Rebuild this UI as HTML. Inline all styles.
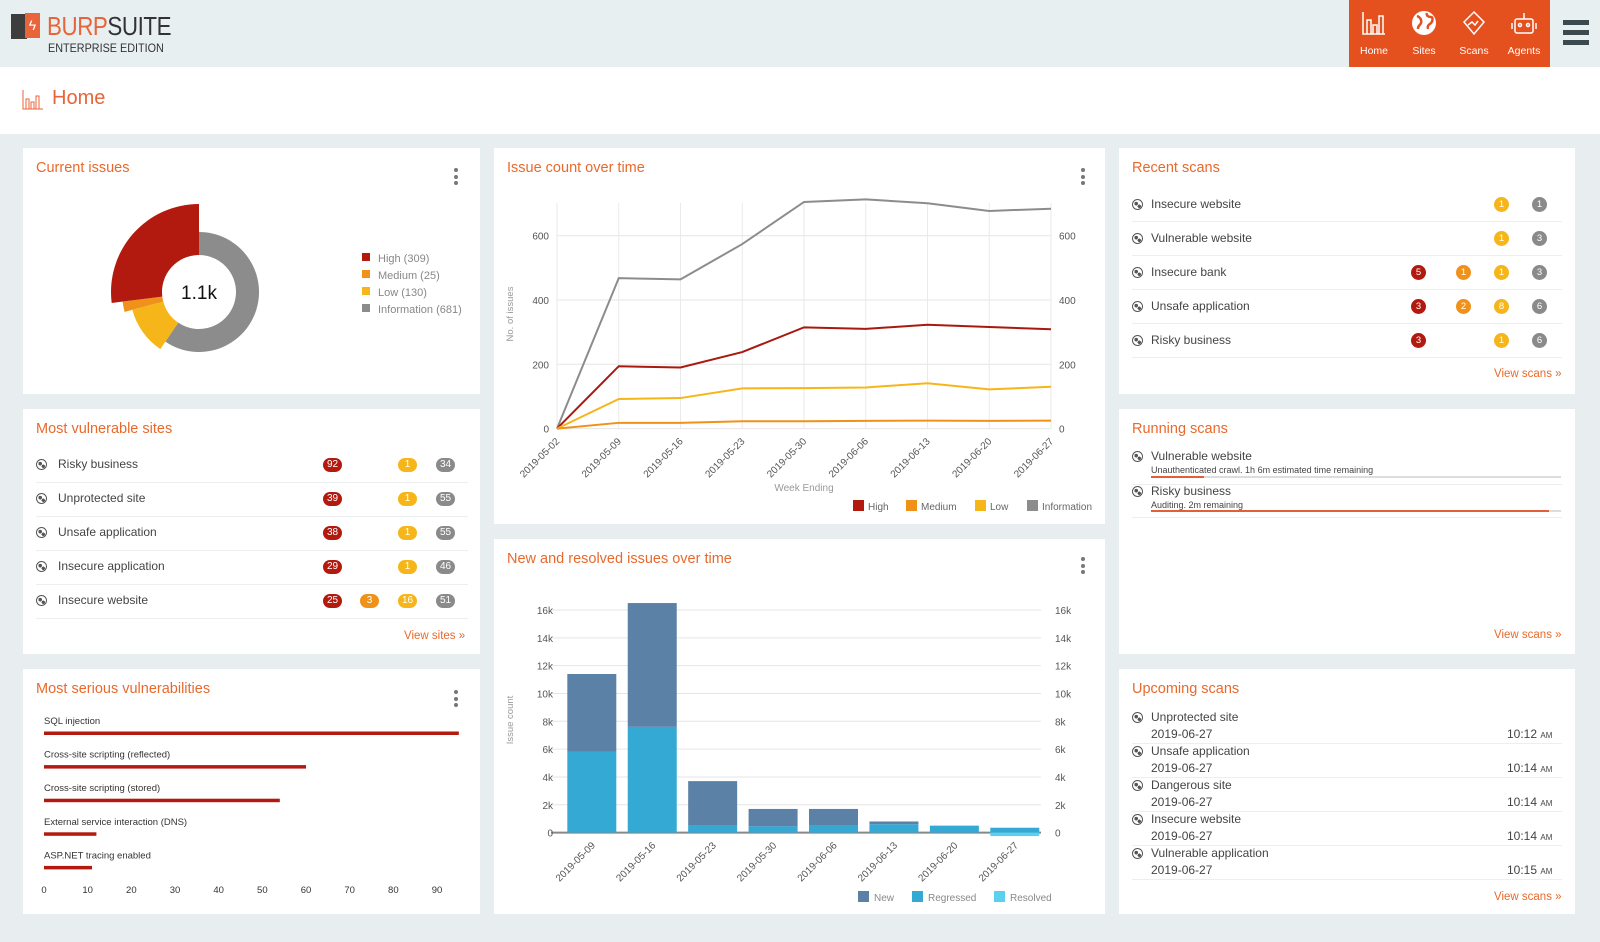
<!DOCTYPE html>
<html><head><meta charset="utf-8">
<style>
*{box-sizing:border-box;margin:0;padding:0}
body{width:1600px;height:942px;overflow:hidden;background:#e8eef0;font-family:"Liberation Sans",sans-serif;position:relative;color:#444}
.abs{position:absolute}
.panel{position:absolute;background:#fff}
.ttl{position:absolute;left:13px;top:12px;font-size:14.5px;color:#e9692c}
.kebab{position:absolute;width:4px}
.kebab i{display:block;width:4px;height:4px;border-radius:2px;background:#777;margin-bottom:2.5px}
.row{position:absolute;font-size:12px;color:#444;white-space:nowrap}
.sep{position:absolute;height:1px;background:#eceff0}
.globe{position:absolute;width:11px;height:11px;border-radius:50%;border:1.5px solid #555;background:radial-gradient(circle at 35% 40%,#555 22%,transparent 24%),radial-gradient(circle at 70% 70%,#555 18%,transparent 20%)}
.pill{position:absolute;height:14px;min-width:19px;border-radius:7px;color:#fff;font-size:10px;line-height:14px;text-align:center;padding:0 3px}
.dot{position:absolute;width:15px;height:15px;border-radius:50%;color:#fff;font-size:9.5px;line-height:15px;text-align:center}
.r{background:#b31a0f}.o{background:#f0921a}.y{background:#f6b619}.g{background:#8a8a8a}
.view{position:absolute;font-size:11.5px;color:#e9692c}
.nav{position:absolute;top:0;width:50px;text-align:center;color:#fff;font-size:10.5px}
</style></head><body>
<div class="abs" style="left:0;top:0;width:1600px;height:67px;background:#e8eff1"></div>
<div class="abs" style="left:10px;top:12px;width:170px;height:46px">
  <div class="abs" style="left:1px;top:2px;width:16px;height:25px;background:#3d3d3d"></div>
  <div class="abs" style="left:15px;top:1px;width:15px;height:25px;background:#e8643a;color:#fff;font-size:14px;line-height:25px;text-align:center">ϟ</div>
  <div class="abs" style="left:37px;top:0px;font-size:26px;line-height:28px;white-space:nowrap;transform:scaleX(0.86);transform-origin:0 0;letter-spacing:-0.5px"><span style="color:#e8643a">BURP</span><span style="color:#333">SUITE</span></div>
  <div class="abs" style="left:38px;top:29px;font-size:12px;color:#333;white-space:nowrap;transform:scaleX(0.9);transform-origin:0 0">ENTERPRISE EDITION</div>
</div>
<div class="abs" style="left:1349px;top:0;width:201px;height:67px;background:#e5501f">
  <div class="nav" style="left:0"><svg width="26" height="26" style="margin-top:10px" viewBox="0 0 26 26" fill="none" stroke="#fff" stroke-width="1.5"><path d="M2 2v22h22M6 24V10h4v14M12 24V15h4v9M18 24V6h4v18"/></svg><div style="margin-top:6px">Home</div></div>
  <div class="nav" style="left:50px"><svg width="26" height="26" style="margin-top:10px" viewBox="0 0 26 26"><circle cx="13" cy="13" r="12" fill="#fff"/><path d="M6 6c3 1 5 4 4 7s-3 2-3 6M16 3c-1 3 2 4 4 4s2 4 0 6-4 2-3 6" stroke="#e5501f" stroke-width="2.5" fill="none"/></svg><div style="margin-top:6px">Sites</div></div>
  <div class="nav" style="left:100px"><svg width="26" height="26" style="margin-top:10px" viewBox="0 0 26 26" fill="none" stroke="#fff" stroke-width="1.5"><path d="M13 2l10 10-10 12L3 12z M7 15l4-3 3 3 3-4"/></svg><div style="margin-top:6px">Scans</div></div>
  <div class="nav" style="left:150px"><svg width="28" height="26" style="margin-top:10px" viewBox="0 0 28 26" fill="none" stroke="#fff" stroke-width="1.5"><rect x="5" y="9" width="18" height="14" rx="2"/><path d="M2 13v6M26 13v6M14 9V3"/><circle cx="10" cy="15" r="1.5"/><circle cx="18" cy="15" r="1.5"/></svg><div style="margin-top:6px">Agents</div></div>
</div>
<div class="abs" style="left:1563px;top:20px;width:26px;height:27px">
  <div class="abs" style="left:0;top:0;width:26px;height:5px;background:#3c4a50"></div>
  <div class="abs" style="left:0;top:10px;width:26px;height:5px;background:#3c4a50"></div>
  <div class="abs" style="left:0;top:20px;width:26px;height:5px;background:#3c4a50"></div>
</div>
<div class="abs" style="left:0;top:67px;width:1600px;height:67px;background:#fff">
  <svg class="abs" style="left:22px;top:23px" width="21" height="20" viewBox="0 0 21 20" fill="none" stroke="#e8643a" stroke-width="1"><path d="M1 0v19h20M4 19V9h3v10M9 19V12h3v7M14 19V6h3v13"/></svg>
  <div class="abs" style="left:52px;top:20px;font-size:20px;color:#e8643a">Home</div>
</div>

<!-- Current issues -->
<div class="panel" style="left:23px;top:148px;width:457px;height:246px">
  <div class="ttl">Current issues</div>
  <div class="kebab" style="left:431px;top:20px"><i></i><i></i><i></i></div>
</div>
<!-- Most vulnerable sites -->
<div class="panel" style="left:23px;top:409px;width:457px;height:245px">
  <div class="ttl">Most vulnerable sites</div>
  <div class="globe" style="left:13px;top:50px"></div><div class="row" style="left:35px;top:48px">Risky business</div>
  <div class="pill r" style="left:300px;top:49px">92</div><div class="pill y" style="left:375px;top:49px">1</div><div class="pill g" style="left:413px;top:49px">34</div>
  <div class="sep" style="left:13px;top:73px;width:432px"></div>
  <div class="globe" style="left:13px;top:84px"></div><div class="row" style="left:35px;top:82px">Unprotected site</div>
  <div class="pill r" style="left:300px;top:83px">39</div><div class="pill y" style="left:375px;top:83px">1</div><div class="pill g" style="left:413px;top:83px">55</div>
  <div class="sep" style="left:13px;top:107px;width:432px"></div>
  <div class="globe" style="left:13px;top:118px"></div><div class="row" style="left:35px;top:116px">Unsafe application</div>
  <div class="pill r" style="left:300px;top:117px">38</div><div class="pill y" style="left:375px;top:117px">1</div><div class="pill g" style="left:413px;top:117px">55</div>
  <div class="sep" style="left:13px;top:141px;width:432px"></div>
  <div class="globe" style="left:13px;top:152px"></div><div class="row" style="left:35px;top:150px">Insecure application</div>
  <div class="pill r" style="left:300px;top:151px">29</div><div class="pill y" style="left:375px;top:151px">1</div><div class="pill g" style="left:413px;top:151px">46</div>
  <div class="sep" style="left:13px;top:175px;width:432px"></div>
  <div class="globe" style="left:13px;top:186px"></div><div class="row" style="left:35px;top:184px">Insecure website</div>
  <div class="pill r" style="left:300px;top:185px">25</div><div class="pill o" style="left:337px;top:185px">3</div><div class="pill y" style="left:375px;top:185px">16</div><div class="pill g" style="left:413px;top:185px">51</div>
  <div class="sep" style="left:13px;top:209px;width:432px"></div>
  <div class="view" style="left:381px;top:221px">View sites »</div>
</div>
<!-- Most serious vulnerabilities -->
<div class="panel" style="left:23px;top:669px;width:457px;height:245px">
  <div class="ttl">Most serious vulnerabilities</div>
  <div class="kebab" style="left:431px;top:21px"><i></i><i></i><i></i></div>
</div>
<!-- Issue count over time -->
<div class="panel" style="left:494px;top:148px;width:611px;height:376px">
  <div class="ttl">Issue count over time</div>
  <div class="kebab" style="left:587px;top:20px"><i></i><i></i><i></i></div>
</div>
<!-- New and resolved -->
<div class="panel" style="left:494px;top:539px;width:611px;height:375px">
  <div class="ttl">New and resolved issues over time</div>
  <div class="kebab" style="left:587px;top:18px"><i></i><i></i><i></i></div>
</div>
<!-- Recent scans -->
<div class="panel" style="left:1119px;top:148px;width:456px;height:246px">
  <div class="ttl">Recent scans</div>
  <div class="globe" style="left:13px;top:51px"></div><div class="row" style="left:32px;top:49px">Insecure website</div>
  <div class="dot y" style="left:375px;top:49px">1</div><div class="dot g" style="left:413px;top:49px">1</div>
  <div class="sep" style="left:13px;top:73px;width:430px"></div>
  <div class="globe" style="left:13px;top:85px"></div><div class="row" style="left:32px;top:83px">Vulnerable website</div>
  <div class="dot y" style="left:375px;top:83px">1</div><div class="dot g" style="left:413px;top:83px">3</div>
  <div class="sep" style="left:13px;top:107px;width:430px"></div>
  <div class="globe" style="left:13px;top:119px"></div><div class="row" style="left:32px;top:117px">Insecure bank</div>
  <div class="dot r" style="left:292px;top:117px">5</div><div class="dot o" style="left:337px;top:117px">1</div><div class="dot y" style="left:375px;top:117px">1</div><div class="dot g" style="left:413px;top:117px">3</div>
  <div class="sep" style="left:13px;top:141px;width:430px"></div>
  <div class="globe" style="left:13px;top:153px"></div><div class="row" style="left:32px;top:151px">Unsafe application</div>
  <div class="dot r" style="left:292px;top:151px">3</div><div class="dot o" style="left:337px;top:151px">2</div><div class="dot y" style="left:375px;top:151px">8</div><div class="dot g" style="left:413px;top:151px">6</div>
  <div class="sep" style="left:13px;top:175px;width:430px"></div>
  <div class="globe" style="left:13px;top:187px"></div><div class="row" style="left:32px;top:185px">Risky business</div>
  <div class="dot r" style="left:292px;top:185px">3</div><div class="dot y" style="left:375px;top:185px">1</div><div class="dot g" style="left:413px;top:185px">6</div>
  <div class="sep" style="left:13px;top:209px;width:430px"></div>
  <div class="view" style="left:375px;top:220px">View scans »</div>
</div>
<!-- Running scans -->
<div class="panel" style="left:1119px;top:409px;width:456px;height:245px">
  <div class="ttl">Running scans</div>
  <div class="globe" style="left:13px;top:42px"></div><div class="row" style="left:32px;top:40px">Vulnerable website</div>
  <div class="row" style="left:32px;top:56px;font-size:9px">Unauthenticated crawl. 1h 6m estimated time remaining</div>
  <div class="abs" style="left:32px;top:67px;width:410px;height:2px;background:#ddd"><div style="width:53px;height:2px;background:#e0603a"></div></div>
  <div class="sep" style="left:13px;top:75px;width:430px"></div>
  <div class="globe" style="left:13px;top:77px"></div><div class="row" style="left:32px;top:75px">Risky business</div>
  <div class="row" style="left:32px;top:91px;font-size:9px">Auditing. 2m remaining</div>
  <div class="abs" style="left:32px;top:101px;width:410px;height:2px;background:#ddd"><div style="width:398px;height:2px;background:#e0603a"></div></div>
  <div class="sep" style="left:13px;top:108px;width:430px"></div>
  <div class="view" style="left:375px;top:220px">View scans »</div>
</div>
<!-- Upcoming scans -->
<div class="panel" style="left:1119px;top:669px;width:456px;height:245px">
  <div class="ttl">Upcoming scans</div>
  <div class="globe" style="left:13px;top:43px"></div><div class="row" style="left:32px;top:41px">Unprotected site</div>
  <div class="row" style="left:32px;top:58px">2019-06-27</div><div class="row" style="left:388px;top:58px">10:12 <small style="font-size:8px">AM</small></div>
  <div class="sep" style="left:13px;top:74px;width:430px"></div>
  <div class="globe" style="left:13px;top:77px"></div><div class="row" style="left:32px;top:75px">Unsafe application</div>
  <div class="row" style="left:32px;top:92px">2019-06-27</div><div class="row" style="left:388px;top:92px">10:14 <small style="font-size:8px">AM</small></div>
  <div class="sep" style="left:13px;top:108px;width:430px"></div>
  <div class="globe" style="left:13px;top:111px"></div><div class="row" style="left:32px;top:109px">Dangerous site</div>
  <div class="row" style="left:32px;top:126px">2019-06-27</div><div class="row" style="left:388px;top:126px">10:14 <small style="font-size:8px">AM</small></div>
  <div class="sep" style="left:13px;top:142px;width:430px"></div>
  <div class="globe" style="left:13px;top:145px"></div><div class="row" style="left:32px;top:143px">Insecure website</div>
  <div class="row" style="left:32px;top:160px">2019-06-27</div><div class="row" style="left:388px;top:160px">10:14 <small style="font-size:8px">AM</small></div>
  <div class="sep" style="left:13px;top:176px;width:430px"></div>
  <div class="globe" style="left:13px;top:179px"></div><div class="row" style="left:32px;top:177px">Vulnerable application</div>
  <div class="row" style="left:32px;top:194px">2019-06-27</div><div class="row" style="left:388px;top:194px">10:15 <small style="font-size:8px">AM</small></div>
  <div class="sep" style="left:13px;top:210px;width:430px"></div>
  <div class="view" style="left:375px;top:222px">View scans »</div>
</div>

<svg id="charts" class="abs" style="left:0;top:0" width="1600" height="942"></svg>

<script>
// ---- Donut data ----
const donutLabels = ["Information", "Low", "Medium", "High"];
const donutValues = [681, 130, 25, 309];
const donutLegend = ["High (309)", "Medium (25)", "Low (130)", "Information (681)"];
// ---- Line chart data ----
const lineDates = ["2019-05-02","2019-05-09","2019-05-16","2019-05-23","2019-05-30","2019-06-06","2019-06-13","2019-06-20","2019-06-27"];
const lineHigh = [0,194,190,238,315,310,323,316,309];
const lineMedium = [0,18,18,23,23,24,25,24,25];
const lineLow = [0,92,95,125,126,128,141,122,130];
const lineInfo = [0,468,464,574,705,713,701,677,684];
const lineTicks = [0,200,400,600];
// ---- Bar chart data ----
const barDates = ["2019-05-09","2019-05-16","2019-05-23","2019-05-30","2019-06-06","2019-06-13","2019-06-20","2019-06-27"];
const barNew = [5.6,8.9,3.2,1.25,1.2,0.2,0,0];
const barRegressed = [5.8,7.6,0.5,0.45,0.5,0.6,0.5,0.35];
const barResolved = [0,0,0,0,0,0,0,-0.25];
const barTicks = [0,2,4,6,8,10,12,14,16];
// ---- Vulnerabilities data ----
const vulnNames = ["SQL injection","Cross-site scripting (reflected)","Cross-site scripting (stored)","External service interaction (DNS)","ASP.NET tracing enabled"];
const vulnValues = [95,60,54,12,11];
const vulnTicks = [0,10,20,30,40,50,60,70,80,90];

const NS="http://www.w3.org/2000/svg";
const svg=document.getElementById('charts');
function mk(tag,attrs,parent){const e=document.createElementNS(NS,tag);for(const k in attrs)e.setAttribute(k,attrs[k]);(parent||svg).appendChild(e);return e;}
function txt(s,attrs,parent){const e=mk('text',Object.assign({'font-family':'Liberation Sans, sans-serif'},attrs),parent);e.textContent=s;return e;}

// Donut
(function(){
  const cx=199,cy=292,ri=37;
  const radii=[60,69,77,88], cols=["#8c8c8c","#f6b619","#f0921a","#b31a0f"];
  const total=donutValues.reduce((a,b)=>a+b,0);
  let a0=0;
  donutValues.forEach((v,i)=>{
    const a1=a0+v/total*Math.PI*2, R=radii[i];
    const p=(r,a)=>[cx+r*Math.sin(a),cy-r*Math.cos(a)];
    const large=(a1-a0)>Math.PI?1:0;
    const [x1,y1]=p(R,a0),[x2,y2]=p(R,a1),[x3,y3]=p(ri,a1),[x4,y4]=p(ri,a0);
    const path=mk('path',{d:`M${x1},${y1}A${R},${R} 0 ${large} 1 ${x2},${y2}L${x3},${y3}A${ri},${ri} 0 ${large} 0 ${x4},${y4}Z`,fill:cols[i]});
    
    
    a0=a1;
  });
  const c=txt('1.1k',{x:cx,y:cy+7,'text-anchor':'middle','font-size':19,fill:'#111'});
  
  
  const lc=["#b31a0f","#f0921a","#f6b619","#8c8c8c"];
  donutLegend.forEach((s,i)=>{
    const g=mk('g',{});
    
    
    mk('rect',{x:362,y:253+i*17,width:8,height:8,fill:lc[i]},g);
    txt(s,{x:378,y:262+i*17,'font-size':11,fill:'#888'},g);
  });
})();

// Line chart
(function(){
  const x0=557,x1=1051,yb=428.6,yTop=203;
  const xs=i=>x0+i*(x1-x0)/(lineDates.length-1);
  const ys=v=>yb-v*(yb-235.7)/600;
  lineDates.forEach((d,i)=>{mk('line',{x1:xs(i),x2:xs(i),y1:yTop,y2:yb,stroke:'#eaeaea'});});
  lineTicks.forEach(t=>{
    mk('line',{x1:x0,x2:x1,y1:ys(t),y2:ys(t),stroke:'#e6e6e6'});
    const l=txt(String(t),{x:549,y:ys(t)+4,'text-anchor':'end','font-size':10,fill:'#555'});
    
    
    const r=txt(String(t),{x:1059,y:ys(t)+4,'font-size':10,fill:'#555'});
    
    
  });
  lineDates.forEach((d,i)=>{
    const l=txt(d,{x:xs(i)+3,y:442,'text-anchor':'end','font-size':10,fill:'#555',transform:`rotate(-45 ${xs(i)+3} 442)`});
    
    
  });
  const yt=txt('No. of issues',{x:513,y:314,'text-anchor':'middle','font-size':9.5,fill:'#999',transform:'rotate(-90 513 314)'});
  
  
  const xt=txt('Week Ending',{x:804,y:491,'text-anchor':'middle','font-size':10,fill:'#999'});
  
  
  const series=[[lineInfo,'#8c8c8c','information'],[lineHigh,'#a8190f','high'],[lineLow,'#f6b619','low'],[lineMedium,'#f0921a','medium']];
  series.forEach(([vals,col,name])=>{
    const p=mk('polyline',{points:vals.map((v,i)=>xs(i)+','+ys(v)).join(' '),fill:'none',stroke:col,'stroke-width':2});
    
    
  });
  const leg=[["High","#b31a0f",853],["Medium","#f0921a",906],["Low","#f6b619",975],["Information","#8c8c8c",1027]];
  leg.forEach(([s,c,x])=>{
    const g=mk('g',{});
    
    
    mk('rect',{x:x,y:500,width:11,height:11,fill:c},g);
    txt(s,{x:x+15,y:510,'font-size':10,fill:'#666'},g);
  });
})();

// Bar chart
(function(){
  const gx0=551,gx1=1041,bx0=561.6,bx1=1045,yb=832.6;
  const per=(yb-610)/16;
  const ys=v=>yb-v*per;
  const band=(bx1-bx0)/barDates.length, bw=49;
  barTicks.forEach(t=>{
    mk('line',{x1:gx0,x2:gx1,y1:ys(t),y2:ys(t),stroke:t===0?'#888':'#e6e6e6','stroke-width':t===0?2:1});
    const s=t===0?'0':t+'k';
    const l=txt(s,{x:553,y:ys(t)+4,'text-anchor':'end','font-size':10,fill:'#555'});
    
    
    const r=txt(s,{x:1055,y:ys(t)+4,'font-size':10,fill:'#555'});
    
    
  });
  barDates.forEach((d,i)=>{
    const bx=bx0+i*band+(band-bw)/2;
    const reg=barRegressed[i], nw=barNew[i], res=barResolved[i];
    const r1=mk('rect',{x:bx,y:ys(reg),width:bw,height:reg*per,fill:'#33a9d4'});
    
    
    const r2=mk('rect',{x:bx,y:ys(reg+nw),width:bw,height:nw*per,fill:'#5b82a6'});
    
    
    if(res<0){
      const r3=mk('rect',{x:bx,y:yb,width:bw,height:-res*per,fill:'#5bd0ef'});
      
      
    }
    const cx=bx+bw/2+4;
    const l=txt(d,{x:cx,y:846,'text-anchor':'end','font-size':10,fill:'#555',transform:`rotate(-45 ${cx} 846)`});
    
    
  });
  const yt=txt('Issue count',{x:513,y:720,'text-anchor':'middle','font-size':9.5,fill:'#999',transform:'rotate(-90 513 720)'});
  
  
  const leg=[["New","#5b82a6",858],["Regressed","#33a9d4",912],["Resolved","#5bd0ef",994]];
  leg.forEach(([s,c,x])=>{
    const g=mk('g',{});
    
    
    mk('rect',{x:x,y:891,width:11,height:11,fill:c},g);
    txt(s,{x:x+16,y:901,'font-size':10,fill:'#888'},g);
  });
})();

// Vulnerabilities horizontal bars
(function(){
  const x0=44, per=(437-44)/90;
  vulnNames.forEach((n,i)=>{
    const y=733+i*33.6;
    const l=txt(n,{x:44,y:y-9,'font-size':9.5,fill:'#333'});
    
    
    const b=mk('rect',{x:x0,y:y-1.5,width:vulnValues[i]*per,height:3.5,fill:'#b31a0f'});
    
    
  });
  vulnTicks.forEach(t=>{
    const l=txt(String(t),{x:x0+t*per,y:893,'text-anchor':'middle','font-size':9.5,fill:'#333'});
    
    
  });
})();
</script>
</body></html>
